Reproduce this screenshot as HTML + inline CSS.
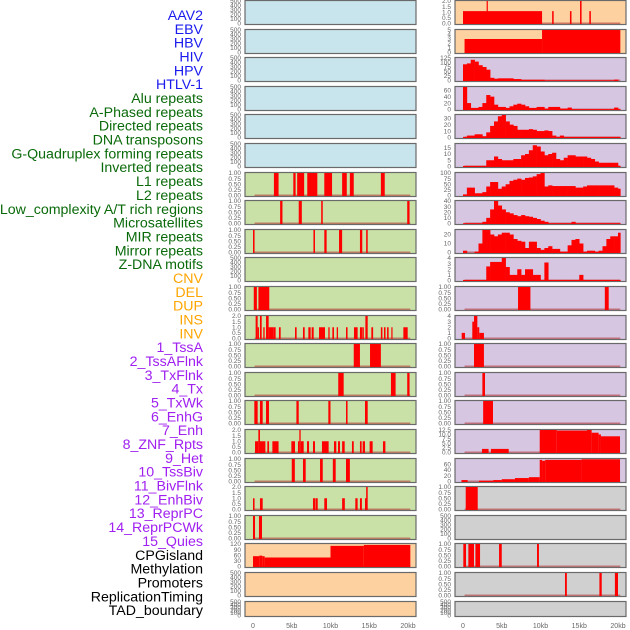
<!DOCTYPE html>
<html><head><meta charset="utf-8"><style>
html,body{margin:0;padding:0;background:#fff;}
svg{display:block;font-family:"Liberation Sans",sans-serif;}
</style></head><body>
<svg id="chart" width="630" height="630" viewBox="0 0 630 630" xmlns="http://www.w3.org/2000/svg"></svg>
<script>
// ---------- data ----------
const rowLabels = ["AAV2","EBV","HBV","HIV","HPV","HTLV-1","Alu repeats","A-Phased repeats","Directed repeats","DNA transposons","G-Quadruplex forming repeats","Inverted repeats","L1 repeats","L2 repeats","Low_complexity A/T rich regions","Microsatellites","MIR repeats","Mirror repeats","Z-DNA motifs","CNV","DEL","DUP","INS","INV","1_TssA","2_TssAFlnk","3_TxFlnk","4_Tx","5_TxWk","6_EnhG","7_Enh","8_ZNF_Rpts","9_Het","10_TssBiv","11_BivFlnk","12_EnhBiv","13_ReprPC","14_ReprPCWk","15_Quies","CPGisland","Methylation","Promoters","ReplicationTiming","TAD_boundary"];
const xTickLabels = ["0","5kb","10kb","15kb","20kb"];
const xTickValues = [0,5,10,15,20];

// histogram bins (0.5 kb each, starting at 0 kb)
const hivBins = [90,95,115,105,85,75,60,15,10,12,12,12,12,8,8,4,4,4,4,4,4,1,1,1,1,1,1,1,1,1,1,1,1,1,1,1,1,1,1,5,0];
const aluBins = [70,20,5,5,8,20,45,40,15,8,8,5,10,15,18,15,10,5,5,8,8,3,8,8,8,3,3,6,1,1,1,1,1,1,1,1,1,1,1,6,1];
const directedBins = [1,3,3,5,5,2,8,18,25,33,35,25,20,18,12,12,12,13,12,10,10,11,10,3,1,3,1,1,1,1,1,1,1,1,1,1,1,1,1,1,1];
const dnaTransBins = [0.5,0.5,0.5,0.5,0.5,0.5,5,5,8,6,5,5,5,6,6,9,10,13,17,16,12,9,10,11,6,5,7,9,9,8,8,8,7,6,4,3,3,3,3,3,0.5];
const gquadBins = [5,35,35,10,10,15,40,60,60,30,40,50,65,70,75,70,78,80,85,95,100,40,45,42,42,42,42,42,42,35,35,40,45,45,45,45,45,45,45,35,30];
const l2Bins = [0.5,0.5,0.5,0.5,0.5,3,10,25,40,32,25,20,18,15,13,15,13,12,10,8,5,3,0.5,0.5,0.5,0.5,0.5,0.5,3,0.5,0.5,0.5,0.5,0.5,0.5,0.5,0.5,0.5,0.5,0.5,0.5];
const mirBins = [2,0,0,1,10,25,25,20,18,20,22,22,20,15,13,12,5,12,12,5,3,5,7,4,4,1,1,8,14,15,10,1,2,2,1,2,7,15,18,18,22];
const zdnaBins = [0.1,0.1,0.1,0.1,0.1,0.1,2.5,3.3,3.3,3.3,4,2.4,1,1,2,1,2,2,1,1,0.1,3.2,0.1,0.1,0.1,0.1,0.1,0.1,0.1,0.1,1,0.1,0.1,0.1,0.1,0.1,0.1,0.1,0.1,0.1,0.1];

// interval segments [startKb, endKb, value]
const aav2Segs = [[0,10.2,1.1],[3.05,3.2,2],[11.5,11.7,1.1],[13.8,14.0,1.1],[15.1,15.3,2],[16.3,16.5,1.1]];
const ebvSegs = [[0.2,10.2,3],[10.2,20.3,5]];
const l1Segs = [[2.7,3.3,1],[5.2,5.5,1],[5.7,6.6,1],[7.0,8.3,1],[9.2,10.2,1],[11.5,12.1,1],[12.5,13.0,1],[16.5,17.0,1]];
const l2Segs = [[3.5,3.8,1],[5.9,6.3,1],[8.8,9.0,1],[19.9,20.2,1]];
const mirSegs = [[0,0.2,1],[7.8,8.0,1],[9.2,9.5,1],[11.1,11.5,1],[13.8,14.1,1],[14.6,14.8,1]];
const delLeftSegs = [[0.1,0.5,1],[0.7,2.1,1]];
const delRightSegs = [[7.1,8.7,1],[18.3,18.8,1]];
const insLeftSegs = [[0.34,0.6,2],[0.6,0.77,1],[0.9,1.12,2],[1.33,1.5,1],[1.68,2.02,2],[2.02,2.19,1],[2.19,2.62,1],[2.62,2.92,1],[3.35,3.57,1],[5.42,5.63,1],[6.45,6.67,1],[7.14,7.44,1],[7.57,7.83,1],[8.52,9.29,1],[9.72,9.89,1],[10.24,10.45,1],[10.8,10.97,1],[12.0,12.2,1],[13.03,13.5,1],[13.8,14.06,1],[14.1,14.3,1],[14.5,14.8,2],[15.27,15.5,1],[16.5,16.7,1],[16.9,17.1,1],[17.3,17.5,1],[17.85,18.0,1],[19.4,19.96,1]];
const insRightSegs = [[-0.17,0.26,1],[1.2,1.42,3],[1.42,1.85,4],[1.85,2.1,2],[2.1,2.7,1]];
const tssALeftSegs = [[13.0,13.8,1],[15.1,16.5,1]];
const tssARightSegs = [[1.42,2.7,1]];
const tssAFlnkLeftSegs = [[11.0,11.7,1],[17.8,18.4,1],[19.9,20.2,1]];
const tssAFlnkRightSegs = [[2.5,2.84,1]];
const txFlnkLeftSegs = [[0.17,0.6,1],[0.9,1.25,1],[1.68,2.06,1],[5.6,5.9,1],[9.72,10.0,1],[12.0,12.2,1],[14.45,14.8,1]];
const txFlnkRightSegs = [[2.6,3.87,1]];
const znfLeftSegs = [[0.26,0.69,1],[0.69,0.9,2],[0.9,1.6,1],[1.85,2.07,1],[2.5,3.3,1],[4.95,5.42,1],[5.8,5.98,1],[5.98,6.15,2],[6.15,6.54,1],[6.97,7.23,1],[7.74,8.0,1],[8.9,9.76,1],[10.45,10.75,1],[10.97,11.22,1],[11.5,11.83,1],[12.77,13.0,1],[13.8,14.02,1],[14.15,14.45,1],[15.05,15.44,1],[16.77,17.08,1]];
const znfRightSegs = [[2.45,3.3,2],[3.6,5.9,2],[9.9,12.1,12.5],[12.1,16.0,12.2],[16.0,16.6,12.5],[16.6,17.5,11],[17.5,17.8,10],[17.8,20.26,9]];
const tssBivLeftSegs = [[5.0,5.4,1],[6.45,6.8,1],[8.65,9.0,1],[10.3,10.67,1],[12.0,12.5,1]];
const tssBivRightSegs = [[-0.2,0.6,5],[2.06,3.9,3],[3.9,5.0,5],[5.0,6.7,8],[6.7,8.5,12],[8.5,9.9,15],[9.9,10.2,75],[10.2,10.6,72],[10.6,15.3,75],[15.3,20.26,77]];
const bivFlnkLeftSegs = [[0,0.2,1],[0.9,1.25,1],[7.74,8.05,1],[8.1,8.35,1],[9.2,9.55,1],[11.5,11.85,1],[13.2,13.5,1],[13.8,14.05,1],[14.45,14.65,1],[14.6,14.8,2]];
const bivFlnkRightSegs = [[0.35,1.9,1]];
const enhBivLeftSegs = [[0,0.26,1],[0.77,1.16,1]];
const cpgLeftSegs = [[0,0.8,55],[0.8,1.2,58],[1.2,1.5,55],[1.5,10.0,48],[10.0,14.3,110],[14.3,20.3,115]];
const cpgRightSegs = [[0.04,0.39,1],[0.69,1.42,1],[1.6,2.2,1],[4.65,5.0,1],[9.55,9.8,1]];
const methRightSegs = [[13.16,13.4,1],[17.6,17.9,1],[19.6,20.0,1]];

// ---------- layout ----------
const BG = {blue:"#c8e4ec",green:"#c9e1a6",orange:"#fdd1a0",purple:"#d6c6e2",gray:"#d0d0d0"};
const TICKS = {
  500:["0","100","200","300","400","500"], 1:["0.00","0.25","0.50","0.75","1.00"], 2:["0.0","0.5","1.0","1.5","2.0"],
  5:["0","1","2","3","4","5"], 125:["0","25","50","75","100","125"], 70:["0","20","40","60"], 35:["0","10","20","30"],
  18:["0","5","10","15"], 100:["0","25","50","75","100"], 40:["0","10","20","30","40"], 25:["0","10","20"], 4:["0","1","2","3","4"],
  12.5:["0.0","2.5","5.0","7.5","10.0","12.5"], 78:["0","20","40","60"], 120:["0","30","60","90","120"]
};
const panels = [];
function P(col,row,bg,ymax,kind,data,name){panels.push({col,row,bg,ymax,kind,data,name});}
for(let r=0;r<6;r++) P("L",r,"blue",500,"none",null,"left-empty-"+r);
P("L",6,"green",1,"seg",l1Segs,"left-l1");
P("L",7,"green",1,"seg",l2Segs,"left-l2");
P("L",8,"green",1,"seg",mirSegs,"left-mir");
P("L",9,"green",500,"none",null,"left-zdna");
P("L",10,"green",1,"seg",delLeftSegs,"left-del");
P("L",11,"green",2,"seg",insLeftSegs,"left-ins");
P("L",12,"green",1,"seg",tssALeftSegs,"left-tssa");
P("L",13,"green",1,"seg",tssAFlnkLeftSegs,"left-tssaflnk");
P("L",14,"green",1,"seg",txFlnkLeftSegs,"left-txflnk");
P("L",15,"green",2,"seg",znfLeftSegs,"left-znf");
P("L",16,"green",1,"seg",tssBivLeftSegs,"left-tssbiv");
P("L",17,"green",2,"seg",bivFlnkLeftSegs,"left-bivflnk");
P("L",18,"green",1,"seg",enhBivLeftSegs,"left-enhbiv");
P("L",19,"orange",120,"seg",cpgLeftSegs,"left-cpg");
P("L",20,"orange",500,"none",null,"left-promoters");
P("L",21,"orange",500,"none",null,"left-tad");
P("R",0,"orange",2,"seg",aav2Segs,"right-aav2");
P("R",1,"orange",5,"seg",ebvSegs,"right-ebv");
P("R",2,"purple",125,"hist",hivBins,"right-hiv");
P("R",3,"purple",70,"hist",aluBins,"right-alu");
P("R",4,"purple",35,"hist",directedBins,"right-directed");
P("R",5,"purple",18,"hist",dnaTransBins,"right-dna-transposons");
P("R",6,"purple",100,"hist",gquadBins,"right-gquad");
P("R",7,"purple",40,"hist",l2Bins,"right-l2");
P("R",8,"purple",25,"hist",mirBins,"right-mir");
P("R",9,"purple",4,"hist",zdnaBins,"right-zdna");
P("R",10,"purple",1,"seg",delRightSegs,"right-del");
P("R",11,"purple",4,"seg",insRightSegs,"right-ins");
P("R",12,"purple",1,"seg",tssARightSegs,"right-tssa");
P("R",13,"purple",1,"seg",tssAFlnkRightSegs,"right-tssaflnk");
P("R",14,"purple",1,"seg",txFlnkRightSegs,"right-txflnk");
P("R",15,"purple",12.5,"seg",znfRightSegs,"right-znf");
P("R",16,"purple",78,"seg",tssBivRightSegs,"right-tssbiv");
P("R",17,"gray",1,"seg",bivFlnkRightSegs,"right-bivflnk");
P("R",18,"gray",500,"none",null,"right-enhbiv");
P("R",19,"gray",1,"seg",cpgRightSegs,"right-cpg");
P("R",20,"gray",1,"seg",methRightSegs,"right-meth");
P("R",21,"gray",500,"none",null,"right-tad");

const NS="http://www.w3.org/2000/svg";
const svg=document.getElementById("chart");
const X0={L:253,R:463}, PX={L:245,R:455}, KB=7.75, PW=171;
function xs(col,kb){return X0[col]+kb*KB;}
function rowTop(r){return Math.round(r*28.6);}
function rowH(r){return r===21?16:25;}
function ys(p,v){const t=rowTop(p.row),y0=t+rowH(p.row)-1.5,y1=t+1;return y0-(Math.min(v,p.ymax)/p.ymax)*(y0-y1);}
function mk(tag,attrs,parent){const e=document.createElementNS(NS,tag);for(const k in attrs)e.setAttribute(k,attrs[k]);(parent||svg).appendChild(e);return e;}

// labels
rowLabels.forEach((t,i)=>{
  let c = i<6?"#1a1aee": i<19?"#0a6a0a": i<24?"#ffa500": i<39?"#a020f0":"#000";
  const e=mk("text",{x:203,y:15+i*13.84+5,"text-anchor":"end","font-size":"14.2",fill:c});
  e.textContent=t;
  
  
});

panels.forEach(p=>{
  const g=mk("g",{});
  
  
  const t=rowTop(p.row),h=rowH(p.row);
  mk("rect",{x:PX[p.col],y:t+0.5,width:PW,height:h-1,fill:BG[p.bg],stroke:"#6a6a6a","stroke-width":"1.2"},g);
  const tl=TICKS[p.ymax];
  tl.forEach((s)=>{
    const val=parseFloat(s);
    const y0=t+h-1.5,y1=t+1;
    const yy=y0-(val/p.ymax)*(y0-y1);
    const e=mk("text",{x:PX[p.col]-4,y:yy+2.2,"text-anchor":"end","font-size":"6.5",fill:"#666"},g);
    e.textContent=s;
    
    
  });
  if(p.kind==="none") return;
  const base=ys(p,0);
  const bl=mk("rect",{x:xs(p.col,0.2),y:base-1,width:20.1*KB,height:1.5,fill:"#b03030",opacity:"0.55"},g);
  
  
  if(p.kind==="hist"){
    p.data.forEach((v,i)=>{
      if(v<=0) return;
      const a=xs(p.col,i*0.5), b=xs(p.col,Math.min(i*0.5+0.5,20.3));
      const y=ys(p,v);
      const r=mk("rect",{x:a,y:y,width:b-a+0.3,height:base-y+0.5,fill:"#ff0000"},g);
      
      
    });
  } else {
    p.data.forEach(s=>{
      const a=xs(p.col,s[0]), b=xs(p.col,s[1]);
      const y=ys(p,s[2]);
      const r=mk("rect",{x:a,y:y,width:Math.max(b-a,1.2),height:base-y+0.5,fill:"#ff0000"},g);
      
      
    });
  }
});

// x axes
["L","R"].forEach(col=>{
  xTickValues.forEach((v,i)=>{
    const e=mk("text",{x:xs(col,v),y:628,"text-anchor":"middle","font-size":"7",fill:"#666"});
    e.textContent=xTickLabels[i];
    
    
  });
});
</script>
</body></html>
